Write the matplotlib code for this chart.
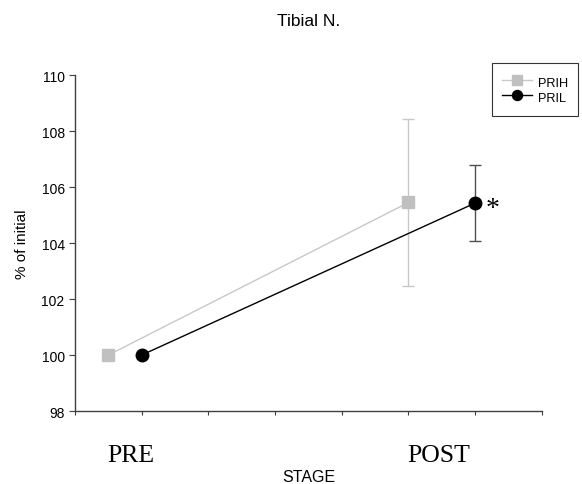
import numpy as np
from matplotlib import pyplot as plt

plt.rcParams['font.family'] = ['Liberation Sans', 'DejaVu Sans']

### Data
stage_labels = ['PRE', 'POST']
prih_x = [0.5, 5.0]
prih_y = [100.0, 105.45]
prih_err = [0.0, 2.97]
pril_x = [1.0, 6.0]
pril_y = [100.0, 105.43]
pril_err = [0.0, 1.35]

# Plot
fig = plt.figure(figsize=(5.82, 4.85), dpi=100)
ax = fig.add_axes([0.129, 0.1505, 0.802, 0.6925])

ax.plot(prih_x, prih_y, color='#c8c8c8', lw=1.0, marker='s', ms=9,
        mfc='#c0c0c0', mec='#c0c0c0', label='PRIH', zorder=3)
ax.errorbar(prih_x[1:], prih_y[1:], yerr=prih_err[1:], fmt='none',
            ecolor='#c8c8c8', elinewidth=1.0, capsize=4, capthick=1.0, zorder=2)
ax.plot(pril_x, pril_y, color='black', lw=1.0, marker='o', ms=9,
        mfc='black', mec='black', label='PRIL', zorder=4)
ax.errorbar(pril_x[1:], pril_y[1:], yerr=pril_err[1:], fmt='none',
            ecolor='#505050', elinewidth=1.0, capsize=4, capthick=1.0, zorder=2)

ax.text(pril_x[1] + 0.15, pril_y[1] - 0.2, '*', family='Liberation Serif',
        fontsize=20, va='center', ha='left')

ax.set_xlim(0, 7)
ax.set_ylim(98, 110)
ax.set_xticks(np.arange(0, 8))
ax.set_xticklabels([])
ax.set_yticks(np.arange(98, 111, 2))
ax.tick_params(axis='y', labelsize=10, length=4, width=0.8, color='#404040')
ax.tick_params(axis='x', length=3, width=0.8, color='#404040')
for s in ['top', 'right']:
    ax.spines[s].set_visible(False)
for s in ['left', 'bottom']:
    ax.spines[s].set_color('#404040')
    ax.spines[s].set_linewidth(1.0)

# Stage labels under the axis
ax.text(0.84, -0.13, stage_labels[0], transform=ax.get_xaxis_transform(),
        family='Liberation Serif', fontsize=18.5, ha='center', va='center')
ax.text(5.45, -0.13, stage_labels[1], transform=ax.get_xaxis_transform(),
        family='Liberation Serif', fontsize=18.5, ha='center', va='center')

ax.set_xlabel('STAGE', fontsize=11.5, labelpad=35)
ax.set_ylabel('% of initial', fontsize=11, labelpad=9)
fig.text(0.53, 0.955, 'Tibial N.', fontsize=12.5, ha='center', va='center')

leg = ax.legend(loc='upper left', bbox_to_anchor=(492/582, 1 - 64/485),
                bbox_transform=fig.transFigure, fontsize=9.2, frameon=True,
                fancybox=False, edgecolor='black', handlelength=2.3,
                handleheight=1.75, borderpad=0.8, labelspacing=-0.2,
                handletextpad=0.5, borderaxespad=0, markerscale=0.8)
leg.get_frame().set_linewidth(0.8)

fig.savefig('out.png', dpi=100)
